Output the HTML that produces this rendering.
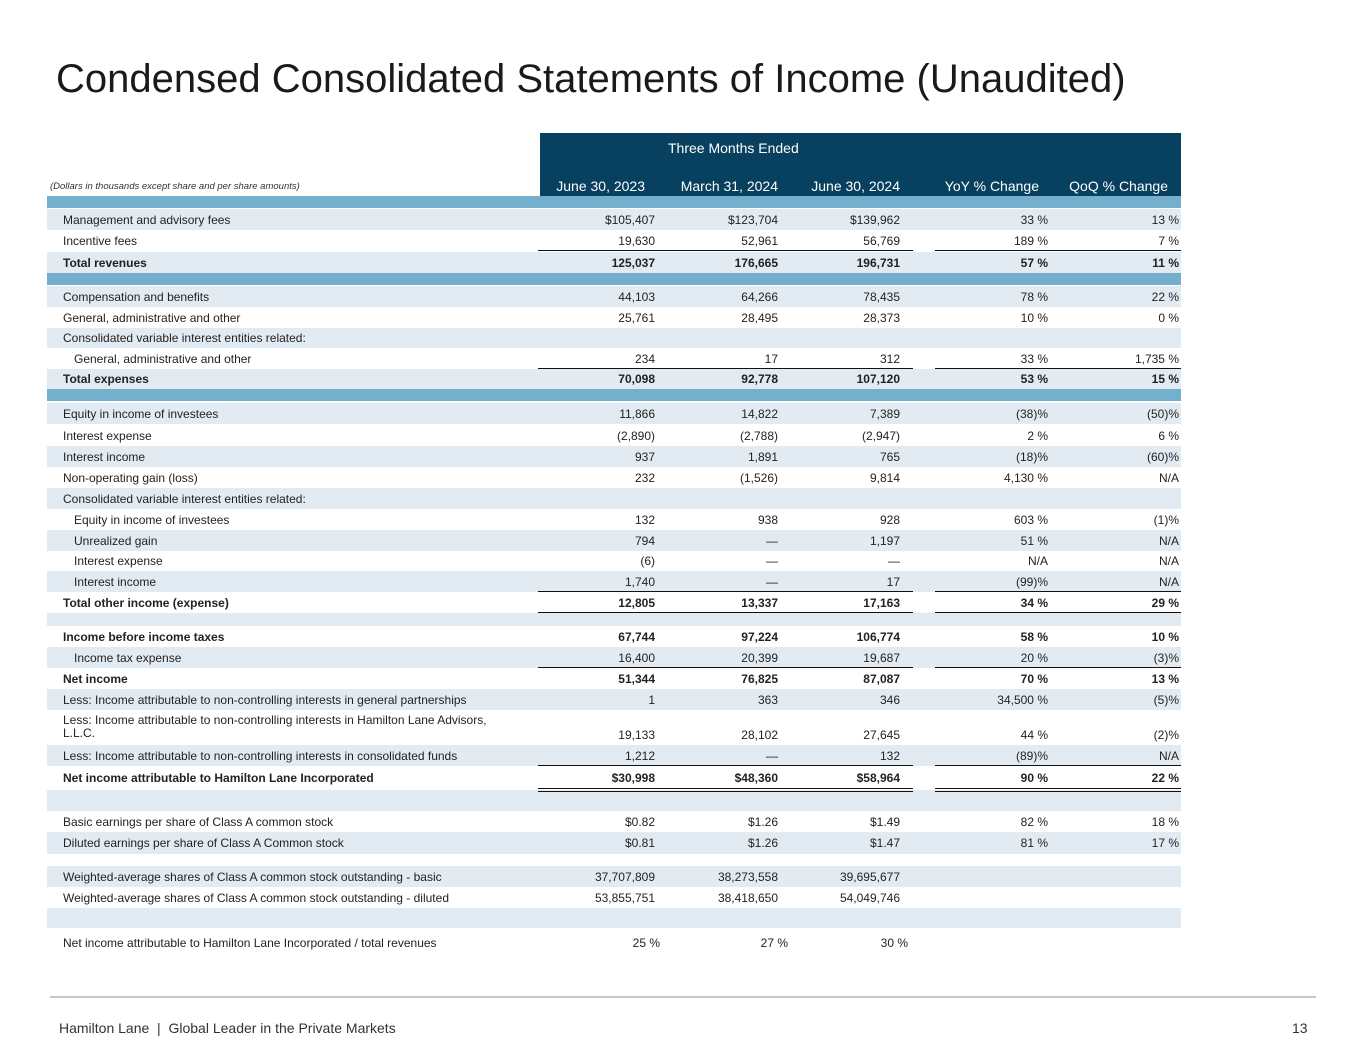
<!DOCTYPE html>
<html><head><meta charset="utf-8">
<style>
body{margin:0;width:1365px;height:1055px;background:#fff;font-family:"Liberation Sans",sans-serif;color:#222;position:relative;overflow:hidden}
.abs{position:absolute}
.title{left:56px;top:57px;font-size:40px;color:#1a1a1a;white-space:nowrap}
.hdr{left:540px;top:133px;width:641px;height:63px;background:#08405f}
.ht{color:#fff;font-size:14px;white-space:nowrap}
.row{left:47px;width:1134px}
.cell{position:absolute;font-size:12px;white-space:nowrap;line-height:14px}
.r{text-align:right}
.line{position:absolute;height:0;border-top:1.5px solid #111}
</style></head><body>
<div class="abs title">Condensed Consolidated Statements of Income (Unaudited)</div>
<div class="abs hdr"></div>
<div class="abs ht" style="left:668px;top:140px">Three Months Ended</div>
<div class="abs ht" style="right:720px;top:178px">June 30, 2023</div>
<div class="abs ht" style="right:587px;top:178px">March 31, 2024</div>
<div class="abs ht" style="right:465px;top:178px">June 30, 2024</div>
<div class="abs ht" style="right:326px;top:178px">YoY % Change</div>
<div class="abs ht" style="right:197px;top:178px">QoQ % Change</div>
<div class="abs" style="left:50px;top:181px;font-size:9.5px;font-style:italic;color:#333">(Dollars in thousands except share and per share amounts)</div>
<div id="tbl"></div>
<div class="abs" style="left:50px;top:996px;width:1266px;height:2px;background:#c8c8c8"></div>
<div class="abs" style="left:59px;top:1020px;font-size:14px;color:#333">Hamilton Lane &nbsp;|&nbsp; Global Leader in the Private Markets</div>
<div class="abs" style="left:1292px;top:1020px;font-size:14px;color:#333">13</div>
<script>
// [top, height, bg(L light,W white,B band), label, indent, bold, c1,c2,c3,yoy,qoq]
const rows=[
[196,12,'B'],
[209,21,'L','Management and advisory fees',0,0,'$105,407','$123,704','$139,962','33 %','13 %'],
[230,21,'W','Incentive fees',0,0,'19,630','52,961','56,769','189 %','7 %'],
[252,21,'L','Total revenues',0,1,'125,037','176,665','196,731','57 %','11 %'],
[273,12,'B'],
[286,21,'L','Compensation and benefits',0,0,'44,103','64,266','78,435','78 %','22 %'],
[307,21,'W','General, administrative and other',0,0,'25,761','28,495','28,373','10 %','0 %'],
[328,20,'L','Consolidated variable interest entities related:',0,0],
[348,21,'W','General, administrative and other',1,0,'234','17','312','33 %','1,735 %'],
[369,20,'L','Total expenses',0,1,'70,098','92,778','107,120','53 %','15 %'],
[389,12,'B'],
[403,21,'L','Equity in income of investees',0,0,'11,866','14,822','7,389','(38)%','(50)%'],
[425,21,'W','Interest expense',0,0,'(2,890)','(2,788)','(2,947)','2 %','6 %'],
[446,21,'L','Interest income',0,0,'937','1,891','765','(18)%','(60)%'],
[467,21,'W','Non-operating gain (loss)',0,0,'232','(1,526)','9,814','4,130 %','N/A'],
[488,21,'L','Consolidated variable interest entities related:',0,0],
[509,21,'W','Equity in income of investees',1,0,'132','938','928','603 %','(1)%'],
[530,21,'L','Unrealized gain',1,0,'794','—','1,197','51 %','N/A'],
[551,20,'W','Interest expense',1,0,'(6)','—','—','N/A','N/A'],
[571,21,'L','Interest income',1,0,'1,740','—','17','(99)%','N/A'],
[592,21,'W','Total other income (expense)',0,1,'12,805','13,337','17,163','34 %','29 %'],
[613,13,'L'],
[626,21,'W','Income before income taxes',0,1,'67,744','97,224','106,774','58 %','10 %'],
[647,21,'L','Income tax expense',1,0,'16,400','20,399','19,687','20 %','(3)%'],
[668,21,'W','Net income',0,1,'51,344','76,825','87,087','70 %','13 %'],
[689,21,'L','Less: Income attributable to non-controlling interests in general partnerships',0,0,'1','363','346','34,500 %','(5)%'],
[710,35,'W','Less: Income attributable to non-controlling interests in Hamilton Lane Advisors, L.L.C.',0,0,'19,133','28,102','27,645','44 %','(2)%'],
[745,21,'L','Less: Income attributable to non-controlling interests in consolidated funds',0,0,'1,212','—','132','(89)%','N/A'],
[766,24,'W','Net income attributable to Hamilton Lane Incorporated',0,1,'$30,998','$48,360','$58,964','90 %','22 %'],
[790,21,'L'],
[811,21,'W','Basic earnings per share of Class A common stock',0,0,'$0.82','$1.26','$1.49','82 %','18 %'],
[832,22,'L','Diluted earnings per share of Class A Common stock',0,0,'$0.81','$1.26','$1.47','81 %','17 %'],
[854,12,'W'],
[866,21,'L','Weighted-average shares of Class A common stock outstanding - basic',0,0,'37,707,809','38,273,558','39,695,677','',''],
[887,21,'W','Weighted-average shares of Class A common stock outstanding - diluted',0,0,'53,855,751','38,418,650','54,049,746','',''],
[908,20,'L'],
[928,30,'W','Net income attributable to Hamilton Lane Incorporated / total revenues',0,0,'25 %','27 %','30 %','','']
];
const singleLines=[251,369,592,613,668,766];
const doubleLines=[790];
const colRight=[655,778,900,1048,1179];
const lastRowRight=[660,788,908];
const bgs={L:'#e2ebf2',W:'#ffffff',B:'#74afcd'};
const tbl=document.getElementById('tbl');
rows.forEach((r,i)=>{
  const d=document.createElement('div');
  d.className='abs row';
  d.style.top=r[0]+'px';d.style.height=r[1]+'px';d.style.background=bgs[r[2]];
  
  
  tbl.appendChild(d);
  if(r.length<4)return;
  const ty=r[1]>30?r[0]+4:r[0]+(r[1]-14)/2;
  const lab=document.createElement('div');
  lab.className='cell';
  lab.style.left=(r[4]?74:63)+'px';
  lab.style.top=ty+'px';
  if(r[1]>30){lab.style.width='450px';lab.style.whiteSpace='normal';lab.style.left='63px';lab.style.lineHeight='13px';}
  if(r[5])lab.style.fontWeight='bold';
  lab.textContent=r[3];
  
  
  tbl.appendChild(lab);
  const vy=r[1]>30?r[0]+r[1]-17:ty;
  for(let c=0;c<5;c++){
    const v=r[6+c];if(!v)continue;
    const e=document.createElement('div');
    e.className='cell r';
    const rr=(i===rows.length-1)?lastRowRight[c]:colRight[c];
    e.style.right=(1365-rr)+'px';
    e.style.top=vy+'px';
    if(r[5])e.style.fontWeight='bold';
    e.textContent=v;
    
    
    tbl.appendChild(e);
  }
});
function hline(y,cls){
  [[538,375],[935,246]].forEach(s=>{
    const l=document.createElement('div');
    l.className='line';
    l.style.left=s[0]+'px';l.style.width=s[1]+'px';l.style.top=y+'px';
    if(cls)l.style.borderTop='4px double #111';
    
    
    tbl.appendChild(l);
  });
}
singleLines.forEach(y=>hline(y-1,0));
doubleLines.forEach(y=>hline(y-2,1));
</script>
</body></html>
